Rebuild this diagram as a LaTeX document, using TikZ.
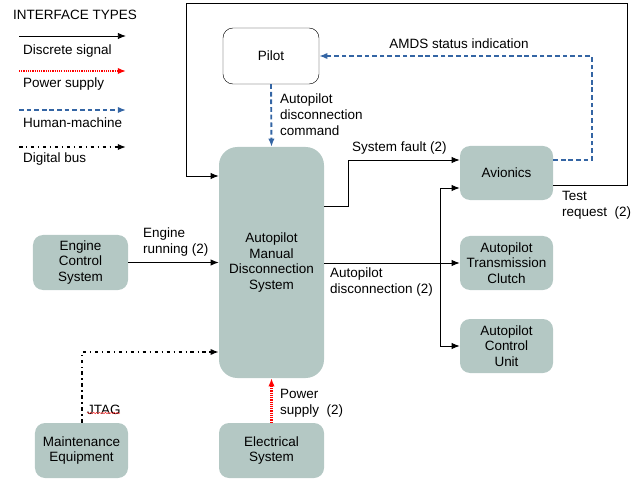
\documentclass[tikz,border=0pt]{standalone}
\usepackage{fontspec}
\setmainfont{Liberation Sans}
\usetikzlibrary{arrows.meta,decorations.pathmorphing}
\definecolor{boxfill}{RGB}{180,200,196}
\definecolor{hmblue}{RGB}{52,101,164}
\tikzset{
  txt/.style={font=\fontsize{11.5}{13.5}\selectfont},
  block/.style={txt, fill=boxfill, rounded corners=0.3cm, align=center,
    minimum width=2.79cm, minimum height=1.62cm},
  lbl/.style={txt, align=left, inner sep=0pt},
  tip/.style={-{Latex[length=7pt,width=5.5pt]}},
  discrete/.style={tip, draw=black, line width=0.8pt},
  power/.style={tip, draw=red, line width=1.8pt, dash pattern=on 1pt off 0.9pt},
  human/.style={tip, draw=hmblue, line width=1.6pt, dash pattern=on 4pt off 2.5pt},
  digibus/.style={tip, draw=black, line width=1.8pt, dash pattern=on 3pt off 3pt on 1.2pt off 3pt}
}
\begin{document}
\begin{tikzpicture}[x=0.03cm,y=-0.03cm]
  \useasboundingbox (0,0) rectangle (641,480);
  % legend
  \node[lbl, anchor=west] (legtitle) at (13,15) {INTERFACE TYPES};
  \draw[discrete] (19,36) -- (126,36);
  \node[lbl, anchor=west] (legdisc) at (23,51) {Discrete signal};
  \draw[power] (19,71) -- (126,71);
  \node[lbl, anchor=west] (legpow) at (23,84) {Power supply};
  \draw[human] (19,110) -- (126,110);
  \node[lbl, anchor=west] (leghm) at (23,123) {Human-machine};
  \draw[digibus] (19,147) -- (126,147);
  \node[lbl, anchor=west] (legbus) at (23,159) {Digital bus};
  % blocks
  \node[block, draw=black, fill=white, rounded corners=0.3cm, minimum width=2.88cm, minimum height=1.68cm] (pilot) at (271,56) {Pilot};
  \node[block, rounded corners=0.55cm, minimum width=3.15cm, minimum height=6.93cm] (amds) at (271.5,262.5) {Autopilot\\Manual\\Disconnection\\System};
  \node[block] (avio) at (506.5,173) {Avionics};
  \node[block] (clutch) at (506.5,263) {Autopilot\\Transmission\\Clutch};
  \node[block] (acu) at (506.5,346) {Autopilot\\Control\\Unit};
  \node[block, minimum width=2.85cm, minimum height=1.65cm] (ecs) at (80.5,262.5) {Engine\\Control\\System};
  \node[block, minimum height=1.65cm] (maint) at (81.5,450.5) {Maintenance\\Equipment};
  \node[block, minimum width=3.15cm, minimum height=1.65cm] (elec) at (271.5,450.5) {Electrical\\System};
  % connectors
  \draw[discrete] (avio.east |- 0,185) -- (627,185) |- (186,3) |- (amds.west |- 0,176);
  \draw[human] (avio.east |- 0,160) -| (592,56) -- (pilot.east);
  \draw[human] (pilot.south) -- (amds.north);
  \draw[discrete] (amds.east |- 0,206) -| (348,160) -- (avio.west |- 0,160);
  \draw[discrete] (amds.east |- 0,263) -- (clutch.west);
  \coordinate (split) at (440,263);
  \draw[discrete] (split) |- (avio.west |- 0,188);
  \draw[discrete] (split) |- (acu.west);
  \draw[discrete] (ecs.east) -- (amds.west |- ecs.east);
  \draw[digibus] (maint.north -| 82,0) |- (amds.west |- 0,352);
  \draw[power] (elec.north) -- (amds.south);
  % labels
  \node[lbl, anchor=north west] (cmdlbl) at (280,94) {Autopilot\\disconnection\\command};
  \node[lbl] (statuslbl) at (459,44) {AMDS status indication};
  \node[lbl, anchor=west] (faultlbl) at (352,148) {System fault (2)};
  \node[lbl, anchor=north west] (testlbl) at (562,191) {Test\\request\ \ (2)};
  \node[lbl, anchor=north west] (enginelbl) at (143,228) {Engine\\running (2)};
  \node[lbl, anchor=north west] (disclbl) at (330,268) {Autopilot\\disconnection (2)};
  \node[lbl, anchor=west] (jtaglbl) at (87,410) {JTAG};
  \draw[red!80, line width=0.4pt, decorate, decoration={snake, segment length=2.5pt, amplitude=0.6pt}] (jtaglbl.south west) ++(0,-2) -- ++(33,0);
  \node[lbl, anchor=north west] (powlbl) at (280,389) {Power\\supply\ \ (2)};
\end{tikzpicture}
\end{document}
